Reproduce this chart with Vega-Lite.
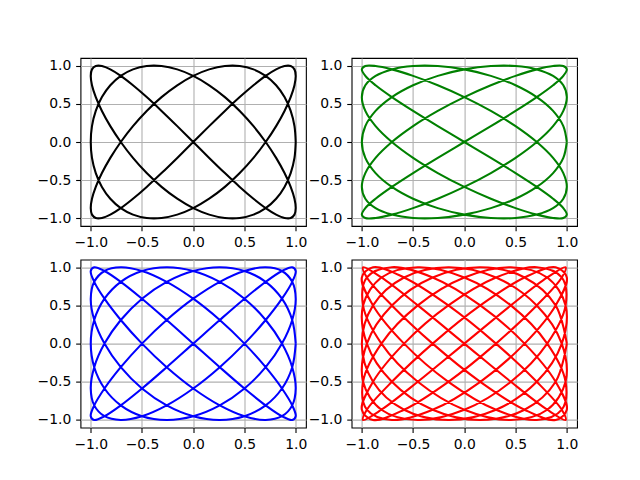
{
"$schema": "https://vega.github.io/schema/vega-lite/v6.json",
"padding": {"left": 36.5, "top": 57, "right": 5, "bottom": 5},
"config": {
  "view": {"stroke": "black", "strokeWidth": 1.1},
  "axis": {"grid": true, "gridColor": "#b0b0b0", "gridWidth": 1.1, "domain": false, "tickColor": "black", "tickSize": 4.86, "tickWidth": 1.1, "labelFont": "DejaVu Sans", "labelFontSize": 13.9, "labelColor": "black", "labelPadding": 4.86, "title": null, "format": ".1f", "values": [-1, -0.5, 0, 0.5, 1]},
  "line": {"interpolate": "catmull-rom", "strokeWidth": 2.08}
},
"datasets": {
"black": [
{"k":0,"x":1,"y":0},{"k":1,"x":0.988,"y":0.208},{"k":2,"x":0.951,"y":0.407},{"k":3,"x":0.891,"y":0.588},{"k":4,"x":0.809,"y":0.743},{"k":5,"x":0.707,"y":0.866},{"k":6,"x":0.588,"y":0.951},{"k":7,"x":0.454,"y":0.995},{"k":8,"x":0.309,"y":0.995},{"k":9,"x":0.156,"y":0.951},
{"k":10,"x":0,"y":0.866},{"k":11,"x":-0.156,"y":0.743},{"k":12,"x":-0.309,"y":0.588},{"k":13,"x":-0.454,"y":0.407},{"k":14,"x":-0.588,"y":0.208},{"k":15,"x":-0.707,"y":0},{"k":16,"x":-0.809,"y":-0.208},{"k":17,"x":-0.891,"y":-0.407},{"k":18,"x":-0.951,"y":-0.588},{"k":19,"x":-0.988,"y":-0.743},
{"k":20,"x":-1,"y":-0.866},{"k":21,"x":-0.988,"y":-0.951},{"k":22,"x":-0.951,"y":-0.995},{"k":23,"x":-0.891,"y":-0.995},{"k":24,"x":-0.809,"y":-0.951},{"k":25,"x":-0.707,"y":-0.866},{"k":26,"x":-0.588,"y":-0.743},{"k":27,"x":-0.454,"y":-0.588},{"k":28,"x":-0.309,"y":-0.407},{"k":29,"x":-0.156,"y":-0.208},
{"k":30,"x":0,"y":0},{"k":31,"x":0.156,"y":0.208},{"k":32,"x":0.309,"y":0.407},{"k":33,"x":0.454,"y":0.588},{"k":34,"x":0.588,"y":0.743},{"k":35,"x":0.707,"y":0.866},{"k":36,"x":0.809,"y":0.951},{"k":37,"x":0.891,"y":0.995},{"k":38,"x":0.951,"y":0.995},{"k":39,"x":0.988,"y":0.951},
{"k":40,"x":1,"y":0.866},{"k":41,"x":0.988,"y":0.743},{"k":42,"x":0.951,"y":0.588},{"k":43,"x":0.891,"y":0.407},{"k":44,"x":0.809,"y":0.208},{"k":45,"x":0.707,"y":0},{"k":46,"x":0.588,"y":-0.208},{"k":47,"x":0.454,"y":-0.407},{"k":48,"x":0.309,"y":-0.588},{"k":49,"x":0.156,"y":-0.743},
{"k":50,"x":0,"y":-0.866},{"k":51,"x":-0.156,"y":-0.951},{"k":52,"x":-0.309,"y":-0.995},{"k":53,"x":-0.454,"y":-0.995},{"k":54,"x":-0.588,"y":-0.951},{"k":55,"x":-0.707,"y":-0.866},{"k":56,"x":-0.809,"y":-0.743},{"k":57,"x":-0.891,"y":-0.588},{"k":58,"x":-0.951,"y":-0.407},{"k":59,"x":-0.988,"y":-0.208},
{"k":60,"x":-1,"y":0},{"k":61,"x":-0.988,"y":0.208},{"k":62,"x":-0.951,"y":0.407},{"k":63,"x":-0.891,"y":0.588},{"k":64,"x":-0.809,"y":0.743},{"k":65,"x":-0.707,"y":0.866},{"k":66,"x":-0.588,"y":0.951},{"k":67,"x":-0.454,"y":0.995},{"k":68,"x":-0.309,"y":0.995},{"k":69,"x":-0.156,"y":0.951},
{"k":70,"x":0,"y":0.866},{"k":71,"x":0.156,"y":0.743},{"k":72,"x":0.309,"y":0.588},{"k":73,"x":0.454,"y":0.407},{"k":74,"x":0.588,"y":0.208},{"k":75,"x":0.707,"y":0},{"k":76,"x":0.809,"y":-0.208},{"k":77,"x":0.891,"y":-0.407},{"k":78,"x":0.951,"y":-0.588},{"k":79,"x":0.988,"y":-0.743},
{"k":80,"x":1,"y":-0.866},{"k":81,"x":0.988,"y":-0.951},{"k":82,"x":0.951,"y":-0.995},{"k":83,"x":0.891,"y":-0.995},{"k":84,"x":0.809,"y":-0.951},{"k":85,"x":0.707,"y":-0.866},{"k":86,"x":0.588,"y":-0.743},{"k":87,"x":0.454,"y":-0.588},{"k":88,"x":0.309,"y":-0.407},{"k":89,"x":0.156,"y":-0.208},
{"k":90,"x":0,"y":0},{"k":91,"x":-0.156,"y":0.208},{"k":92,"x":-0.309,"y":0.407},{"k":93,"x":-0.454,"y":0.588},{"k":94,"x":-0.588,"y":0.743},{"k":95,"x":-0.707,"y":0.866},{"k":96,"x":-0.809,"y":0.951},{"k":97,"x":-0.891,"y":0.995},{"k":98,"x":-0.951,"y":0.995},{"k":99,"x":-0.988,"y":0.951},
{"k":100,"x":-1,"y":0.866},{"k":101,"x":-0.988,"y":0.743},{"k":102,"x":-0.951,"y":0.588},{"k":103,"x":-0.891,"y":0.407},{"k":104,"x":-0.809,"y":0.208},{"k":105,"x":-0.707,"y":0},{"k":106,"x":-0.588,"y":-0.208},{"k":107,"x":-0.454,"y":-0.407},{"k":108,"x":-0.309,"y":-0.588},{"k":109,"x":-0.156,"y":-0.743},
{"k":110,"x":0,"y":-0.866},{"k":111,"x":0.156,"y":-0.951},{"k":112,"x":0.309,"y":-0.995},{"k":113,"x":0.454,"y":-0.995},{"k":114,"x":0.588,"y":-0.951},{"k":115,"x":0.707,"y":-0.866},{"k":116,"x":0.809,"y":-0.743},{"k":117,"x":0.891,"y":-0.588},{"k":118,"x":0.951,"y":-0.407},{"k":119,"x":0.988,"y":-0.208},
{"k":120,"x":1,"y":0}
],
"green": [
{"k":0,"x":1,"y":0},{"k":1,"x":0.966,"y":0.208},{"k":2,"x":0.866,"y":0.407},{"k":3,"x":0.707,"y":0.588},{"k":4,"x":0.5,"y":0.743},{"k":5,"x":0.259,"y":0.866},{"k":6,"x":0,"y":0.951},{"k":7,"x":-0.259,"y":0.995},{"k":8,"x":-0.5,"y":0.995},{"k":9,"x":-0.707,"y":0.951},
{"k":10,"x":-0.866,"y":0.866},{"k":11,"x":-0.966,"y":0.743},{"k":12,"x":-1,"y":0.588},{"k":13,"x":-0.966,"y":0.407},{"k":14,"x":-0.866,"y":0.208},{"k":15,"x":-0.707,"y":0},{"k":16,"x":-0.5,"y":-0.208},{"k":17,"x":-0.259,"y":-0.407},{"k":18,"x":0,"y":-0.588},{"k":19,"x":0.259,"y":-0.743},
{"k":20,"x":0.5,"y":-0.866},{"k":21,"x":0.707,"y":-0.951},{"k":22,"x":0.866,"y":-0.995},{"k":23,"x":0.966,"y":-0.995},{"k":24,"x":1,"y":-0.951},{"k":25,"x":0.966,"y":-0.866},{"k":26,"x":0.866,"y":-0.743},{"k":27,"x":0.707,"y":-0.588},{"k":28,"x":0.5,"y":-0.407},{"k":29,"x":0.259,"y":-0.208},
{"k":30,"x":0,"y":0},{"k":31,"x":-0.259,"y":0.208},{"k":32,"x":-0.5,"y":0.407},{"k":33,"x":-0.707,"y":0.588},{"k":34,"x":-0.866,"y":0.743},{"k":35,"x":-0.966,"y":0.866},{"k":36,"x":-1,"y":0.951},{"k":37,"x":-0.966,"y":0.995},{"k":38,"x":-0.866,"y":0.995},{"k":39,"x":-0.707,"y":0.951},
{"k":40,"x":-0.5,"y":0.866},{"k":41,"x":-0.259,"y":0.743},{"k":42,"x":0,"y":0.588},{"k":43,"x":0.259,"y":0.407},{"k":44,"x":0.5,"y":0.208},{"k":45,"x":0.707,"y":0},{"k":46,"x":0.866,"y":-0.208},{"k":47,"x":0.966,"y":-0.407},{"k":48,"x":1,"y":-0.588},{"k":49,"x":0.966,"y":-0.743},
{"k":50,"x":0.866,"y":-0.866},{"k":51,"x":0.707,"y":-0.951},{"k":52,"x":0.5,"y":-0.995},{"k":53,"x":0.259,"y":-0.995},{"k":54,"x":0,"y":-0.951},{"k":55,"x":-0.259,"y":-0.866},{"k":56,"x":-0.5,"y":-0.743},{"k":57,"x":-0.707,"y":-0.588},{"k":58,"x":-0.866,"y":-0.407},{"k":59,"x":-0.966,"y":-0.208},
{"k":60,"x":-1,"y":0},{"k":61,"x":-0.966,"y":0.208},{"k":62,"x":-0.866,"y":0.407},{"k":63,"x":-0.707,"y":0.588},{"k":64,"x":-0.5,"y":0.743},{"k":65,"x":-0.259,"y":0.866},{"k":66,"x":0,"y":0.951},{"k":67,"x":0.259,"y":0.995},{"k":68,"x":0.5,"y":0.995},{"k":69,"x":0.707,"y":0.951},
{"k":70,"x":0.866,"y":0.866},{"k":71,"x":0.966,"y":0.743},{"k":72,"x":1,"y":0.588},{"k":73,"x":0.966,"y":0.407},{"k":74,"x":0.866,"y":0.208},{"k":75,"x":0.707,"y":0},{"k":76,"x":0.5,"y":-0.208},{"k":77,"x":0.259,"y":-0.407},{"k":78,"x":0,"y":-0.588},{"k":79,"x":-0.259,"y":-0.743},
{"k":80,"x":-0.5,"y":-0.866},{"k":81,"x":-0.707,"y":-0.951},{"k":82,"x":-0.866,"y":-0.995},{"k":83,"x":-0.966,"y":-0.995},{"k":84,"x":-1,"y":-0.951},{"k":85,"x":-0.966,"y":-0.866},{"k":86,"x":-0.866,"y":-0.743},{"k":87,"x":-0.707,"y":-0.588},{"k":88,"x":-0.5,"y":-0.407},{"k":89,"x":-0.259,"y":-0.208},
{"k":90,"x":0,"y":0},{"k":91,"x":0.259,"y":0.208},{"k":92,"x":0.5,"y":0.407},{"k":93,"x":0.707,"y":0.588},{"k":94,"x":0.866,"y":0.743},{"k":95,"x":0.966,"y":0.866},{"k":96,"x":1,"y":0.951},{"k":97,"x":0.966,"y":0.995},{"k":98,"x":0.866,"y":0.995},{"k":99,"x":0.707,"y":0.951},
{"k":100,"x":0.5,"y":0.866},{"k":101,"x":0.259,"y":0.743},{"k":102,"x":0,"y":0.588},{"k":103,"x":-0.259,"y":0.407},{"k":104,"x":-0.5,"y":0.208},{"k":105,"x":-0.707,"y":0},{"k":106,"x":-0.866,"y":-0.208},{"k":107,"x":-0.966,"y":-0.407},{"k":108,"x":-1,"y":-0.588},{"k":109,"x":-0.966,"y":-0.743},
{"k":110,"x":-0.866,"y":-0.866},{"k":111,"x":-0.707,"y":-0.951},{"k":112,"x":-0.5,"y":-0.995},{"k":113,"x":-0.259,"y":-0.995},{"k":114,"x":0,"y":-0.951},{"k":115,"x":0.259,"y":-0.866},{"k":116,"x":0.5,"y":-0.743},{"k":117,"x":0.707,"y":-0.588},{"k":118,"x":0.866,"y":-0.407},{"k":119,"x":0.966,"y":-0.208},
{"k":120,"x":1,"y":0}
],
"blue": [
{"k":0,"x":1,"y":0},{"k":1,"x":0.966,"y":0.309},{"k":2,"x":0.866,"y":0.588},{"k":3,"x":0.707,"y":0.809},{"k":4,"x":0.5,"y":0.951},{"k":5,"x":0.259,"y":1},{"k":6,"x":0,"y":0.951},{"k":7,"x":-0.259,"y":0.809},{"k":8,"x":-0.5,"y":0.588},{"k":9,"x":-0.707,"y":0.309},
{"k":10,"x":-0.866,"y":0},{"k":11,"x":-0.966,"y":-0.309},{"k":12,"x":-1,"y":-0.588},{"k":13,"x":-0.966,"y":-0.809},{"k":14,"x":-0.866,"y":-0.951},{"k":15,"x":-0.707,"y":-1},{"k":16,"x":-0.5,"y":-0.951},{"k":17,"x":-0.259,"y":-0.809},{"k":18,"x":0,"y":-0.588},{"k":19,"x":0.259,"y":-0.309},
{"k":20,"x":0.5,"y":0},{"k":21,"x":0.707,"y":0.309},{"k":22,"x":0.866,"y":0.588},{"k":23,"x":0.966,"y":0.809},{"k":24,"x":1,"y":0.951},{"k":25,"x":0.966,"y":1},{"k":26,"x":0.866,"y":0.951},{"k":27,"x":0.707,"y":0.809},{"k":28,"x":0.5,"y":0.588},{"k":29,"x":0.259,"y":0.309},
{"k":30,"x":0,"y":0},{"k":31,"x":-0.259,"y":-0.309},{"k":32,"x":-0.5,"y":-0.588},{"k":33,"x":-0.707,"y":-0.809},{"k":34,"x":-0.866,"y":-0.951},{"k":35,"x":-0.966,"y":-1},{"k":36,"x":-1,"y":-0.951},{"k":37,"x":-0.966,"y":-0.809},{"k":38,"x":-0.866,"y":-0.588},{"k":39,"x":-0.707,"y":-0.309},
{"k":40,"x":-0.5,"y":0},{"k":41,"x":-0.259,"y":0.309},{"k":42,"x":0,"y":0.588},{"k":43,"x":0.259,"y":0.809},{"k":44,"x":0.5,"y":0.951},{"k":45,"x":0.707,"y":1},{"k":46,"x":0.866,"y":0.951},{"k":47,"x":0.966,"y":0.809},{"k":48,"x":1,"y":0.588},{"k":49,"x":0.966,"y":0.309},
{"k":50,"x":0.866,"y":0},{"k":51,"x":0.707,"y":-0.309},{"k":52,"x":0.5,"y":-0.588},{"k":53,"x":0.259,"y":-0.809},{"k":54,"x":0,"y":-0.951},{"k":55,"x":-0.259,"y":-1},{"k":56,"x":-0.5,"y":-0.951},{"k":57,"x":-0.707,"y":-0.809},{"k":58,"x":-0.866,"y":-0.588},{"k":59,"x":-0.966,"y":-0.309},
{"k":60,"x":-1,"y":0},{"k":61,"x":-0.966,"y":0.309},{"k":62,"x":-0.866,"y":0.588},{"k":63,"x":-0.707,"y":0.809},{"k":64,"x":-0.5,"y":0.951},{"k":65,"x":-0.259,"y":1},{"k":66,"x":0,"y":0.951},{"k":67,"x":0.259,"y":0.809},{"k":68,"x":0.5,"y":0.588},{"k":69,"x":0.707,"y":0.309},
{"k":70,"x":0.866,"y":0},{"k":71,"x":0.966,"y":-0.309},{"k":72,"x":1,"y":-0.588},{"k":73,"x":0.966,"y":-0.809},{"k":74,"x":0.866,"y":-0.951},{"k":75,"x":0.707,"y":-1},{"k":76,"x":0.5,"y":-0.951},{"k":77,"x":0.259,"y":-0.809},{"k":78,"x":0,"y":-0.588},{"k":79,"x":-0.259,"y":-0.309},
{"k":80,"x":-0.5,"y":0},{"k":81,"x":-0.707,"y":0.309},{"k":82,"x":-0.866,"y":0.588},{"k":83,"x":-0.966,"y":0.809},{"k":84,"x":-1,"y":0.951},{"k":85,"x":-0.966,"y":1},{"k":86,"x":-0.866,"y":0.951},{"k":87,"x":-0.707,"y":0.809},{"k":88,"x":-0.5,"y":0.588},{"k":89,"x":-0.259,"y":0.309},
{"k":90,"x":0,"y":0},{"k":91,"x":0.259,"y":-0.309},{"k":92,"x":0.5,"y":-0.588},{"k":93,"x":0.707,"y":-0.809},{"k":94,"x":0.866,"y":-0.951},{"k":95,"x":0.966,"y":-1},{"k":96,"x":1,"y":-0.951},{"k":97,"x":0.966,"y":-0.809},{"k":98,"x":0.866,"y":-0.588},{"k":99,"x":0.707,"y":-0.309},
{"k":100,"x":0.5,"y":0},{"k":101,"x":0.259,"y":0.309},{"k":102,"x":0,"y":0.588},{"k":103,"x":-0.259,"y":0.809},{"k":104,"x":-0.5,"y":0.951},{"k":105,"x":-0.707,"y":1},{"k":106,"x":-0.866,"y":0.951},{"k":107,"x":-0.966,"y":0.809},{"k":108,"x":-1,"y":0.588},{"k":109,"x":-0.966,"y":0.309},
{"k":110,"x":-0.866,"y":0},{"k":111,"x":-0.707,"y":-0.309},{"k":112,"x":-0.5,"y":-0.588},{"k":113,"x":-0.259,"y":-0.809},{"k":114,"x":0,"y":-0.951},{"k":115,"x":0.259,"y":-1},{"k":116,"x":0.5,"y":-0.951},{"k":117,"x":0.707,"y":-0.809},{"k":118,"x":0.866,"y":-0.588},{"k":119,"x":0.966,"y":-0.309},
{"k":120,"x":1,"y":0}
],
"red": [
{"k":0,"x":1,"y":0},{"k":1,"x":0.891,"y":0.5},{"k":2,"x":0.588,"y":0.866},{"k":3,"x":0.156,"y":1},{"k":4,"x":-0.309,"y":0.866},{"k":5,"x":-0.707,"y":0.5},{"k":6,"x":-0.951,"y":0},{"k":7,"x":-0.988,"y":-0.5},{"k":8,"x":-0.809,"y":-0.866},{"k":9,"x":-0.454,"y":-1},
{"k":10,"x":0,"y":-0.866},{"k":11,"x":0.454,"y":-0.5},{"k":12,"x":0.809,"y":0},{"k":13,"x":0.988,"y":0.5},{"k":14,"x":0.951,"y":0.866},{"k":15,"x":0.707,"y":1},{"k":16,"x":0.309,"y":0.866},{"k":17,"x":-0.156,"y":0.5},{"k":18,"x":-0.588,"y":0},{"k":19,"x":-0.891,"y":-0.5},
{"k":20,"x":-1,"y":-0.866},{"k":21,"x":-0.891,"y":-1},{"k":22,"x":-0.588,"y":-0.866},{"k":23,"x":-0.156,"y":-0.5},{"k":24,"x":0.309,"y":0},{"k":25,"x":0.707,"y":0.5},{"k":26,"x":0.951,"y":0.866},{"k":27,"x":0.988,"y":1},{"k":28,"x":0.809,"y":0.866},{"k":29,"x":0.454,"y":0.5},
{"k":30,"x":0,"y":0},{"k":31,"x":-0.454,"y":-0.5},{"k":32,"x":-0.809,"y":-0.866},{"k":33,"x":-0.988,"y":-1},{"k":34,"x":-0.951,"y":-0.866},{"k":35,"x":-0.707,"y":-0.5},{"k":36,"x":-0.309,"y":0},{"k":37,"x":0.156,"y":0.5},{"k":38,"x":0.588,"y":0.866},{"k":39,"x":0.891,"y":1},
{"k":40,"x":1,"y":0.866},{"k":41,"x":0.891,"y":0.5},{"k":42,"x":0.588,"y":0},{"k":43,"x":0.156,"y":-0.5},{"k":44,"x":-0.309,"y":-0.866},{"k":45,"x":-0.707,"y":-1},{"k":46,"x":-0.951,"y":-0.866},{"k":47,"x":-0.988,"y":-0.5},{"k":48,"x":-0.809,"y":0},{"k":49,"x":-0.454,"y":0.5},
{"k":50,"x":0,"y":0.866},{"k":51,"x":0.454,"y":1},{"k":52,"x":0.809,"y":0.866},{"k":53,"x":0.988,"y":0.5},{"k":54,"x":0.951,"y":0},{"k":55,"x":0.707,"y":-0.5},{"k":56,"x":0.309,"y":-0.866},{"k":57,"x":-0.156,"y":-1},{"k":58,"x":-0.588,"y":-0.866},{"k":59,"x":-0.891,"y":-0.5},
{"k":60,"x":-1,"y":0},{"k":61,"x":-0.891,"y":0.5},{"k":62,"x":-0.588,"y":0.866},{"k":63,"x":-0.156,"y":1},{"k":64,"x":0.309,"y":0.866},{"k":65,"x":0.707,"y":0.5},{"k":66,"x":0.951,"y":0},{"k":67,"x":0.988,"y":-0.5},{"k":68,"x":0.809,"y":-0.866},{"k":69,"x":0.454,"y":-1},
{"k":70,"x":0,"y":-0.866},{"k":71,"x":-0.454,"y":-0.5},{"k":72,"x":-0.809,"y":0},{"k":73,"x":-0.988,"y":0.5},{"k":74,"x":-0.951,"y":0.866},{"k":75,"x":-0.707,"y":1},{"k":76,"x":-0.309,"y":0.866},{"k":77,"x":0.156,"y":0.5},{"k":78,"x":0.588,"y":0},{"k":79,"x":0.891,"y":-0.5},
{"k":80,"x":1,"y":-0.866},{"k":81,"x":0.891,"y":-1},{"k":82,"x":0.588,"y":-0.866},{"k":83,"x":0.156,"y":-0.5},{"k":84,"x":-0.309,"y":0},{"k":85,"x":-0.707,"y":0.5},{"k":86,"x":-0.951,"y":0.866},{"k":87,"x":-0.988,"y":1},{"k":88,"x":-0.809,"y":0.866},{"k":89,"x":-0.454,"y":0.5},
{"k":90,"x":0,"y":0},{"k":91,"x":0.454,"y":-0.5},{"k":92,"x":0.809,"y":-0.866},{"k":93,"x":0.988,"y":-1},{"k":94,"x":0.951,"y":-0.866},{"k":95,"x":0.707,"y":-0.5},{"k":96,"x":0.309,"y":0},{"k":97,"x":-0.156,"y":0.5},{"k":98,"x":-0.588,"y":0.866},{"k":99,"x":-0.891,"y":1},
{"k":100,"x":-1,"y":0.866},{"k":101,"x":-0.891,"y":0.5},{"k":102,"x":-0.588,"y":0},{"k":103,"x":-0.156,"y":-0.5},{"k":104,"x":0.309,"y":-0.866},{"k":105,"x":0.707,"y":-1},{"k":106,"x":0.951,"y":-0.866},{"k":107,"x":0.988,"y":-0.5},{"k":108,"x":0.809,"y":0},{"k":109,"x":0.454,"y":0.5},
{"k":110,"x":0,"y":0.866},{"k":111,"x":-0.454,"y":1},{"k":112,"x":-0.809,"y":0.866},{"k":113,"x":-0.988,"y":0.5},{"k":114,"x":-0.951,"y":0},{"k":115,"x":-0.707,"y":-0.5},{"k":116,"x":-0.309,"y":-0.866},{"k":117,"x":0.156,"y":-1},{"k":118,"x":0.588,"y":-0.866},{"k":119,"x":0.891,"y":-0.5},
{"k":120,"x":1,"y":0}
]
},
"columns": 2,
"spacing": {"row": 33.6, "column": 45.1},
"bounds": "flush",
"concat": [
  {"width": 225.45, "height": 168, "data": {"name": "black"}, "mark": {"type": "line", "color": "#000000"},
   "encoding": {"x": {"field": "x", "type": "quantitative", "scale": {"domain": [-1.1, 1.1], "nice": false, "zero": false}},
                "y": {"field": "y", "type": "quantitative", "scale": {"domain": [-1.1, 1.1], "nice": false, "zero": false}},
                "order": {"field": "k", "type": "quantitative"}}},
  {"width": 225.45, "height": 168, "data": {"name": "green"}, "mark": {"type": "line", "color": "#008000"},
   "encoding": {"x": {"field": "x", "type": "quantitative", "scale": {"domain": [-1.1, 1.1], "nice": false, "zero": false}},
                "y": {"field": "y", "type": "quantitative", "scale": {"domain": [-1.1, 1.1], "nice": false, "zero": false}},
                "order": {"field": "k", "type": "quantitative"}}},
  {"width": 225.45, "height": 168, "data": {"name": "blue"}, "mark": {"type": "line", "color": "#0000ff"},
   "encoding": {"x": {"field": "x", "type": "quantitative", "scale": {"domain": [-1.1, 1.1], "nice": false, "zero": false}},
                "y": {"field": "y", "type": "quantitative", "scale": {"domain": [-1.1, 1.1], "nice": false, "zero": false}},
                "order": {"field": "k", "type": "quantitative"}}},
  {"width": 225.45, "height": 168, "data": {"name": "red"}, "mark": {"type": "line", "color": "#ff0000"},
   "encoding": {"x": {"field": "x", "type": "quantitative", "scale": {"domain": [-1.1, 1.1], "nice": false, "zero": false}},
                "y": {"field": "y", "type": "quantitative", "scale": {"domain": [-1.1, 1.1], "nice": false, "zero": false}},
                "order": {"field": "k", "type": "quantitative"}}}
]
}
